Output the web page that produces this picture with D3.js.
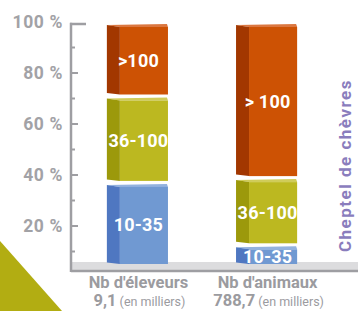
<!DOCTYPE html>
<html>
<head>
<meta charset="utf-8">
<script src="https://cdn.jsdelivr.net/npm/d3@7"></script>
<style>
  html, body { margin: 0; padding: 0; background: #fff; }
  svg { display: block; }
</style>
</head>
<body>
<svg id="chart" width="358" height="311"></svg>
<script>
// data
const categories = ["Nb d'éleveurs", "Nb d'animaux"];
const totals = ["9,1", "788,7"];
const classes = ["10-35", "36-100", ">100"];
const labelsLeft = ["10-35", "36-100", ">100"];
const labelsRight = ["10-35", "36-100", "> 100"];
const shares = [
    [34, 36, 30],   // Nb d'éleveurs
    [8, 28, 64]     // Nb d'animaux
];
const majorTicks = [20, 40, 60, 80, 100];
const minorTicks = [10, 30, 50, 70, 90];

const colors = {
    "10-35":  { front: "#7099d2", side: "#4f77c1", top: "#93b2df" },
    "36-100": { front: "#bcb820", side: "#9c990b", top: "#d0cc5a" },
    ">100":   { front: "#cd5204", side: "#a23700", top: "#db7740" }
};

const W = 358, H = 311;
const svg = d3.select("#chart");
const gray = "#9e9ea2";

//scales
const x = d3.scaleBand().domain(categories).range([72, 332]).paddingInner(0.527).paddingOuter(0.27);
const yAxis = d3.scaleLinear().domain([0, 100]).range([277, 22]);
const yBar = d3.scaleLinear().domain([0, 100]).range([264, 24]);

//olive corner triangle
svg.append("path")
    .attr("d", "M0,241 L62,311 L0,311 Z")
    .attr("fill", "#b2ad12");

//floor
svg.append("rect")
    .attr("x", 72).attr("y", 262).attr("width", W - 72).attr("height", 8)
    .attr("fill", "#dcdcde");
svg.append("line")
    .attr("x1", 71).attr("x2", W).attr("y1", 271).attr("y2", 271)
    .attr("stroke", gray).attr("stroke-width", 2.5);

//axis line + ticks
svg.append("line")
    .attr("x1", 71).attr("x2", 71).attr("y1", 22.8).attr("y2", 272)
    .attr("stroke", gray).attr("stroke-width", 2.5);
svg.append("line")
    .attr("x1", 70).attr("x2", 86).attr("y1", 24).attr("y2", 24)
    .attr("stroke", gray).attr("stroke-width", 2.5);
svg.selectAll("line.major")
    .data(majorTicks.filter(d => d < 100)).enter()
    .append("line")
    .classed("major", true)
    .attr("x1", 71).attr("x2", 78)
    .attr("y1", d => yAxis(d)).attr("y2", d => yAxis(d))
    .attr("stroke", gray).attr("stroke-width", 2);
svg.selectAll("line.minor")
    .data(minorTicks).enter()
    .append("line")
    .classed("minor", true)
    .attr("x1", 71).attr("x2", 75)
    .attr("y1", d => yAxis(d)).attr("y2", d => yAxis(d))
    .attr("stroke", gray).attr("stroke-width", 2);

const axisG = svg.append("g")
    .attr("transform", "translate(63,0)")
    .call(d3.axisLeft(yAxis).tickValues(majorTicks).tickSize(0).tickPadding(0).tickFormat(d => d + " %"));
axisG.select(".domain").remove();
axisG.selectAll("text")
    .attr("fill", "#a2a2a6")
    .style("font-family", "Roboto, sans-serif")
    .style("font-weight", "bold")
    .style("font-size", "17.5px")
    .style("letter-spacing", "0.6px");

//stacked 3D blocks
const side = 13, gap = 1.5;
categories.forEach((cat, ci) => {
    const x0 = x(cat), x1 = x(cat) + x.bandwidth();
    let cum = 0;
    shares[ci].forEach((v, si) => {
        const key = classes[si];
        const c = colors[key];
        const bottom = si === 0 ? yBar(cum) : yBar(cum) - gap;
        const top = yBar(cum + v) + (si === classes.length - 1 ? 0 : gap);
        cum += v;
        const g = svg.append("g");
        g.append("polygon")
            .attr("points", [[x0, top + 1], [x0 + side, top + 3], [x1, top + 3], [x1 - 1, top]].join(" "))
            .attr("fill", c.top);
        g.append("rect")
            .attr("x", x0 + side).attr("y", top + 3)
            .attr("width", x1 - x0 - side).attr("height", bottom - top - 3)
            .attr("fill", c.front);
        g.append("polygon")
            .attr("points", [[x0, top + 1], [x0 + side, top + 3], [x0 + side, bottom], [x0, bottom - 1.5]].join(" "))
            .attr("fill", c.side);
        g.append("text")
            .attr("x", (x0 + x1) / 2 + 1)
            .attr("y", (top + bottom) / 2 + 1)
            .attr("dy", "0.36em")
            .attr("text-anchor", "middle")
            .attr("fill", "#fff")
            .style("font-family", "Roboto, sans-serif")
            .style("font-weight", "bold")
            .style("font-size", "18px")
            .style("letter-spacing", "0.2px")
            .text(ci === 0 ? labelsLeft[si] : labelsRight[si]);
    });
});

//category labels
categories.forEach((cat, ci) => {
    const cx = x(cat) + x.bandwidth() / 2 + 1;
    svg.append("text")
        .attr("x", cx).attr("y", 288)
        .attr("text-anchor", "middle")
        .attr("fill", "#9b9b9f")
        .style("font-family", "Roboto, sans-serif")
        .style("font-weight", "bold")
        .style("font-size", "16.5px")
        .text(cat);
    const t = svg.append("text")
        .attr("x", cx + 1).attr("y", 306)
        .attr("text-anchor", "middle")
        .attr("fill", "#9b9b9f")
        .style("font-family", "Roboto, sans-serif");
    t.append("tspan").style("font-weight", "bold").style("font-size", "16.5px").text(totals[ci]);
    t.append("tspan").style("font-size", "12.5px").text(" (en milliers)");
});

//vertical title
svg.append("text")
    .attr("transform", "translate(351,165.5) rotate(-90)")
    .attr("text-anchor", "middle")
    .attr("fill", "#8a7dbd")
    .style("font-family", "Roboto, sans-serif")
    .style("font-weight", "bold")
    .style("font-size", "17px")
    .style("letter-spacing", "1.5px")
    .text("Cheptel de chèvres");
</script>
</body>
</html>
